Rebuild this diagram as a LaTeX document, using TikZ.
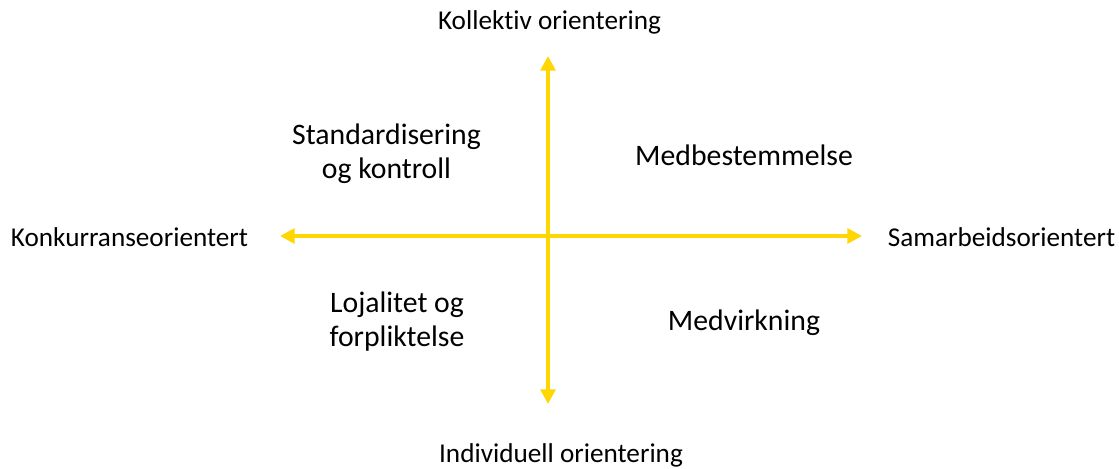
\documentclass[tikz,border=0pt]{standalone}
\usepackage{fontspec}
\setmainfont{Carlito}[Ligatures=NoCommon]
\usetikzlibrary{arrows.meta}

\begin{document}
\begin{tikzpicture}[
    x=0.75pt, y=-0.75pt,
    akse/.style={line width=3pt, draw={rgb,255:red,255;green,214;blue,0},
      {Triangle[length=11pt,width=11pt]}-{Triangle[length=11pt,width=11pt]}},
    endepunkt/.style={font=\fontsize{20.4}{24}\selectfont, inner sep=0pt},
    felt/.style={font=\fontsize{22.3}{25.5}\selectfont, align=center, inner sep=0pt}
]
\useasboundingbox (0,0) rectangle (1119,468);

\node[endepunkt] (kollektiv) at (549.5,22) {Kollektiv orientering};
\node[endepunkt] (individuell) at (561,455) {Individuell orientering};
\node[endepunkt] (konkurranse) at (129.5,237) {Konkurranseorientert};
\node[endepunkt] (samarbeid) at (1001.5,237) {Samarbeidsorientert};

\coordinate (topp) at (548,56);
\coordinate (bunn) at (548,404);
\coordinate (venstre) at (280,236);
\coordinate (hoyre) at (862,236);

\draw[akse] (bunn) -- (topp);
\draw[akse] (venstre) -- (hoyre);

\node[felt] (standard) at (386.5,154) {Standardisering\\og kontroll};
\node[felt] (medbest) at (744,155) {Medbestemmelse};
\node[felt] (lojalitet) at (397,322) {Lojalitet og\\forpliktelse};
\node[felt] (medvirk) at (744,323) {Medvirkning};
\end{tikzpicture}
\end{document}
